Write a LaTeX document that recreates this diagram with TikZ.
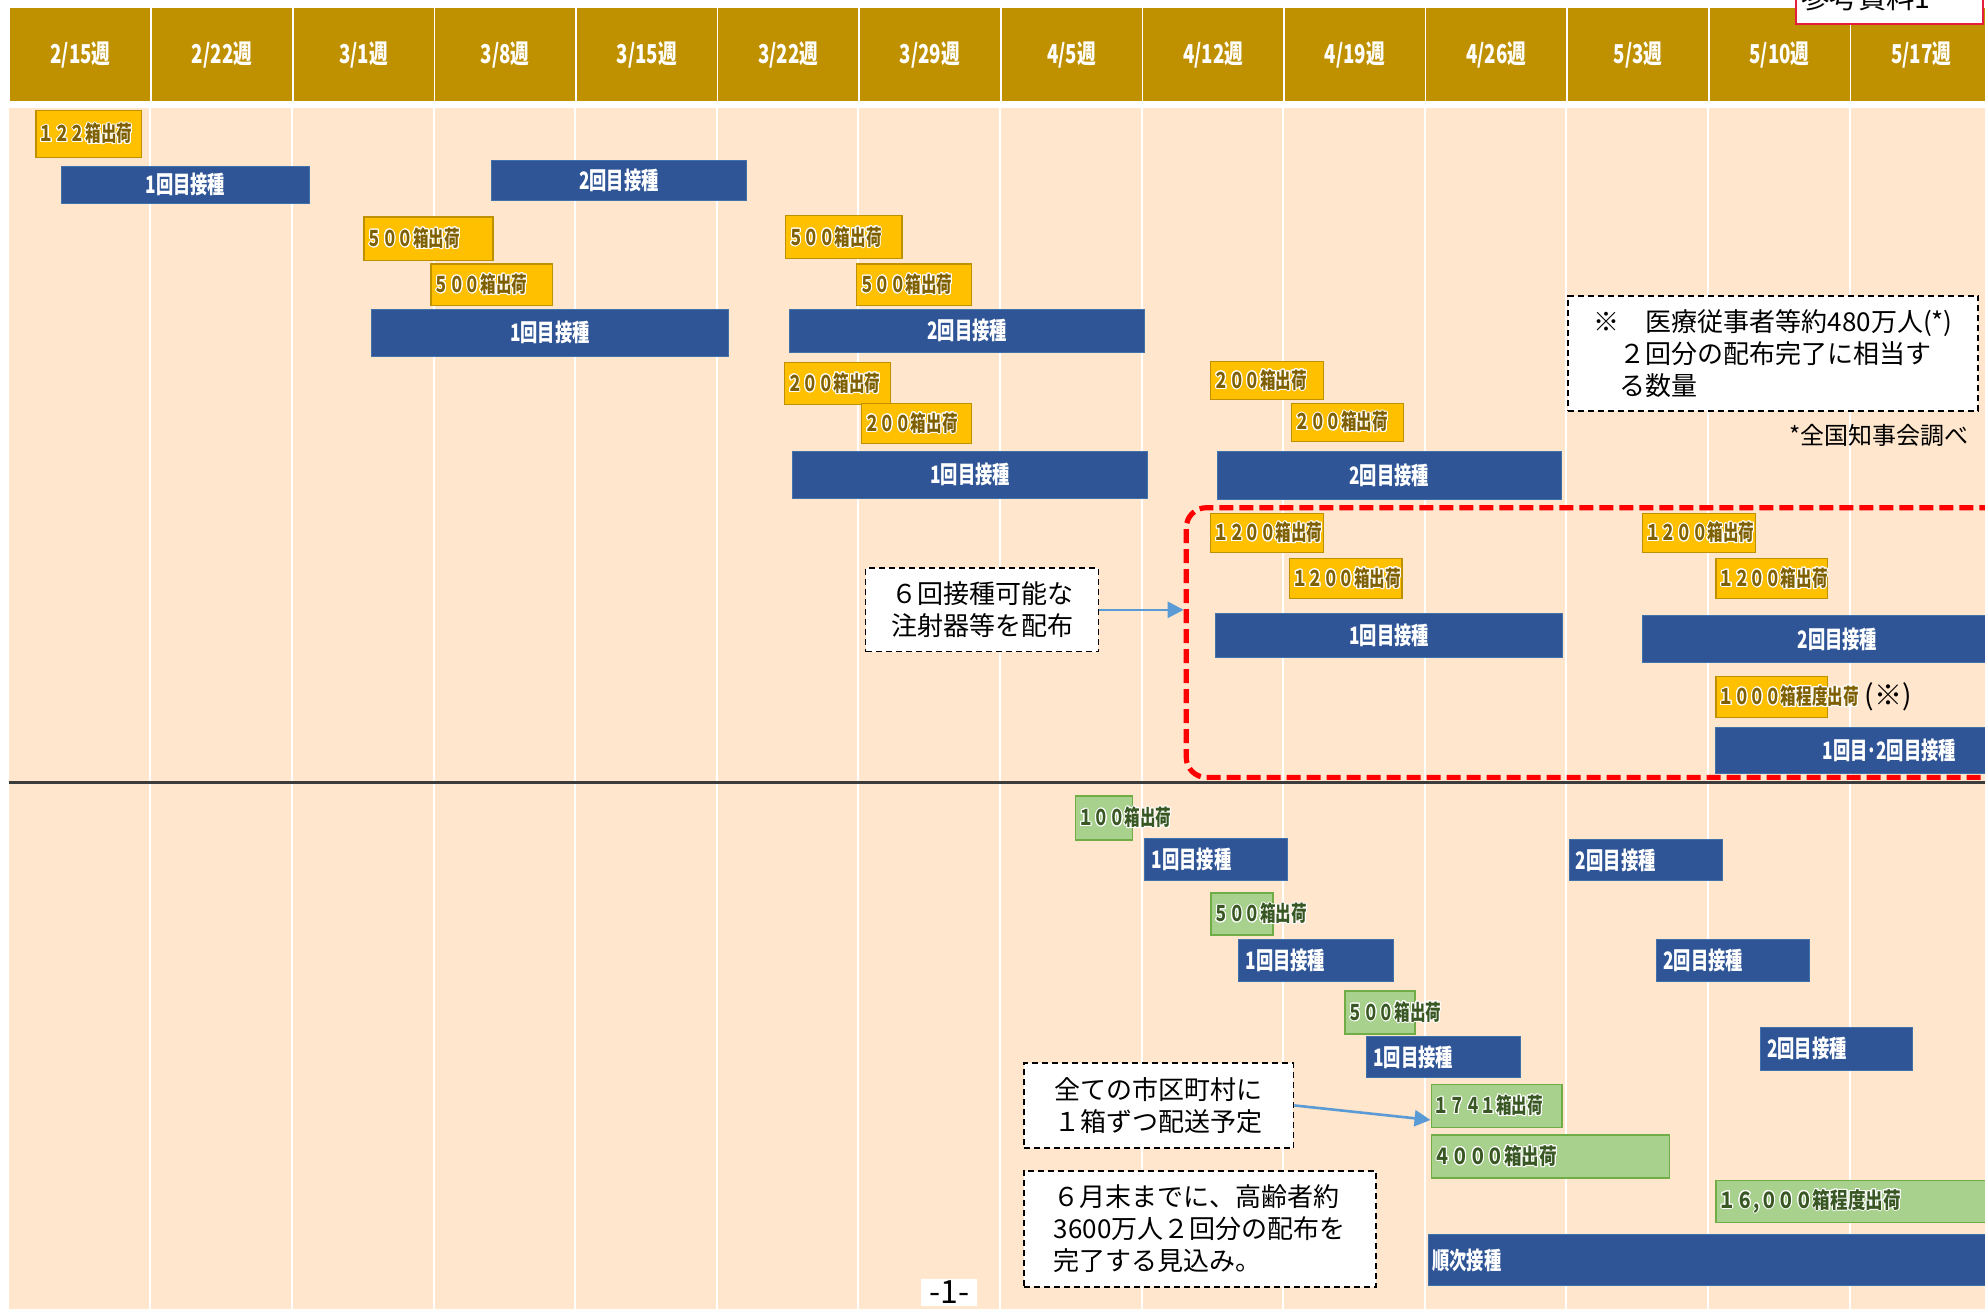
\documentclass[tikz,border=0pt]{standalone}
\usepackage{fontspec}
\setmainfont{Noto Sans CJK JP}
\newfontfamily\barfont{Noto Sans CJK JP}[FakeStretch=0.72]
\newfontfamily\widefont{Noto Sans CJK JP}[FakeStretch=0.8]
\usepackage{contour}
\contourlength{0.5pt}
\usetikzlibrary{shapes,arrows.meta,positioning}

\definecolor{headgold}{RGB}{191,144,0}
\definecolor{bodypeach}{RGB}{255,230,204}
\definecolor{barblue}{RGB}{47,85,151}
\definecolor{barblueline}{RGB}{65,113,170}
\definecolor{shipyellow}{RGB}{255,192,0}
\definecolor{shipyellowline}{RGB}{191,144,0}
\definecolor{shipbrown}{RGB}{127,96,0}
\definecolor{shipgreen}{RGB}{169,209,142}
\definecolor{shipgreenline}{RGB}{112,173,71}
\definecolor{shipgreentext}{RGB}{56,87,35}
\definecolor{arrowblue}{RGB}{91,155,213}
\definecolor{framered}{RGB}{255,0,0}
\definecolor{refred}{RGB}{230,30,60}
\definecolor{sepgray}{RGB}{60,60,60}

\begin{document}
\begin{tikzpicture}[x=0.633pt, y=-0.633pt,
  sz/.style 2 args={minimum width=#1*0.633pt, minimum height=#2*0.633pt}]
\tikzstyle{headcell} = [rectangle, draw=white, line width=0.8pt, fill=headgold, text=white,
    inner sep=0pt, anchor=north west, font=\barfont\bfseries\fontsize{13}{15}\selectfont]
\tikzstyle{bluebar} = [rectangle, draw=barblueline, line width=0.5pt, fill=barblue, text=white,
    inner sep=0pt, anchor=north west, font=\barfont\bfseries\fontsize{12}{14}\selectfont]
\tikzstyle{bluetext} = [anchor=west, inner xsep=3.5pt, text=white, font=\barfont\bfseries\fontsize{12}{14}\selectfont]
\tikzstyle{shipbox} = [rectangle, draw=shipyellowline, line width=0.6pt, fill=shipyellow, inner sep=0pt, anchor=north west]
\tikzstyle{shiptext} = [anchor=west, inner xsep=1.5pt, text=shipbrown, font=\barfont\bfseries\fontsize{10.8}{12}\selectfont]
\tikzstyle{greenbox} = [rectangle, draw=shipgreenline, line width=0.8pt, fill=shipgreen, inner sep=0pt, anchor=north west]
\tikzstyle{greentext} = [shiptext, text=shipgreentext]
\tikzstyle{note} = [rectangle, draw, line width=0.9pt, dash pattern=on 3pt off 2pt, fill=white,
    inner sep=0pt, anchor=north west, font=\fontsize{13}{16}\selectfont]
\tikzstyle{redframe} = [rectangle, draw=framered, line width=2.6pt, dash pattern=on 7pt off 3pt,
    rounded corners=10pt, inner sep=0pt, anchor=north west]
\tikzstyle{line} = [draw=arrowblue, line width=1.3pt, -{Triangle[length=8pt,width=8pt]}]

\clip (0,0) rectangle (1568,1034);
\fill[white] (0,0) rectangle (1568,1034);

% week header and columns
\fill[bodypeach] (7,85) rectangle (1568,1034);
\foreach \i in {1,...,13}
  \draw[white, line width=1pt] ({7+111.85*\i},85) -- ({7+111.85*\i},1034);
\foreach \w [count=\i from 0] in {2/15,2/22,3/1,3/8,3/15,3/22,3/29,4/5,4/12,4/19,4/26,5/3,5/10,5/17}
  \node[headcell, sz={111.85}{75}] (h\i) at ({7+111.85*\i},5) {\w 週};

\node[rectangle, draw=refred, line width=1pt, fill=white, sz={148}{60}, anchor=south west] (refbox) at (1418,20) {};
\node[font=\fontsize{14.2}{16}\selectfont] (reftext) at (1474,-2) {参考資料1};

% medical staff
\node[shipbox, sz={83}{37}] (y1) at (28,87) {};
\node[shiptext] (y1t) at (y1.west) {\contour{white}{１２２箱出荷}};
\node[bluebar, sz={196}{29}] (b1) at (48,131) {1回目接種};
\node[bluebar, sz={201}{32}] (b2) at (388,126) {2回目接種};

\node[shipbox, sz={102}{34}] (y2) at (287,171) {};
\node[shiptext] (y2t) at (y2.west) {\contour{white}{５００箱出荷}};
\node[shipbox, sz={96}{33}] (y3) at (340,208) {};
\node[shiptext] (y3t) at (y3.west) {\contour{white}{５００箱出荷}};
\node[bluebar, sz={282}{37}] (b3) at (293,244) {1回目接種};

\node[shipbox, sz={92}{34}] (y4) at (620,170) {};
\node[shiptext] (y4t) at (y4.west) {\contour{white}{５００箱出荷}};
\node[shipbox, sz={91}{33}] (y5) at (676,208) {};
\node[shiptext] (y5t) at (y5.west) {\contour{white}{５００箱出荷}};
\node[bluebar, sz={281}{34}] (b4) at (623,244) {2回目接種};

\node[shipbox, sz={84}{33}] (y6) at (619,286) {};
\node[shiptext] (y6t) at (y6.west) {\contour{white}{２００箱出荷}};
\node[shipbox, sz={87}{32}] (y7) at (680,318) {};
\node[shiptext] (y7t) at (y7.west) {\contour{white}{２００箱出荷}};
\node[bluebar, sz={280}{37}] (b5) at (626,356) {1回目接種};

\node[shipbox, sz={89}{30}] (y8) at (956,285) {};
\node[shiptext] (y8t) at (y8.west) {\contour{white}{２００箱出荷}};
\node[shipbox, sz={88}{30}] (y9) at (1020,318) {};
\node[shiptext] (y9t) at (y9.west) {\contour{white}{２００箱出荷}};
\node[bluebar, sz={272}{38}] (b6) at (961,356) {2回目接種};

\node[note, sz={324}{91}, align=left] (note480) at (1238,233)
  {※　医療従事者等約480万人(*)\\\hspace*{1em}２回分の配布完了に相当す\\\hspace*{1em}る数量};
\node[font=\fontsize{12}{14}\selectfont] (source) at (1484,344) {*全国知事会調べ};

% six-dose syringes
\node[redframe, sz={685}{213}] (sixdose) at (935,399) {};
\node[shipbox, sz={89}{31}] (y10) at (956,405) {};
\node[shiptext] (y10t) at (y10.west) {\contour{white}{１２００箱出荷}};
\node[shipbox, sz={89}{31}] (y11) at (1018,441) {};
\node[shiptext] (y11t) at (y11.west) {\contour{white}{１２００箱出荷}};
\node[bluebar, sz={274}{35}] (b7) at (960,484) {1回目接種};
\node[shipbox, sz={89}{31}] (y12) at (1297,405) {};
\node[shiptext] (y12t) at (y12.west) {\contour{white}{１２００箱出荷}};
\node[shipbox, sz={88}{31}] (y13) at (1355,441) {};
\node[shiptext] (y13t) at (y13.west) {\contour{white}{１２００箱出荷}};
\node[bluebar, sz={308}{37}] (b8) at (1297,486) {2回目接種};
\node[shipbox, sz={88}{32}] (y14) at (1355,534) {};
\node[shiptext] (y14t) at (y14.west) {\contour{white}{１０００箱程度出荷}};
\node[anchor=west, inner xsep=1pt, font=\fontsize{14}{16}\selectfont] (y14n) at (y14t.east) {(※)};
\node[bluebar, sz={274}{37}] (b9) at (1355,574) {1回目･2回目接種};

\node[note, sz={184}{66}, align=center] (note6) at (683,448) {６回接種可能な\\注射器等を配布};
\path[line] (note6.east) -- (note6.east -| sixdose.west);

\draw[sepgray, line width=1.2pt] (7,618) -- (1568,618);

% elderly
\node[greenbox, sz={45}{35}] (g1) at (849,628) {};
\node[greentext] (g1t) at (g1.west) {\contour{white}{１００箱出荷}};
\node[bluebar, sz={113}{33}] (b10) at (904,662) {};
\node[bluetext] (b10t) at (b10.west) {1回目接種};
\node[bluebar, sz={121}{32}] (b11) at (1239,663) {};
\node[bluetext] (b11t) at (b11.west) {2回目接種};

\node[greenbox, sz={49}{33}] (g2) at (956,705) {};
\node[greentext] (g2t) at (g2.west) {\contour{white}{５００箱出荷}};
\node[bluebar, sz={122}{33}] (b12) at (978,742) {};
\node[bluetext] (b12t) at (b12.west) {1回目接種};
\node[bluebar, sz={121}{33}] (b13) at (1308,742) {};
\node[bluetext] (b13t) at (b13.west) {2回目接種};

\node[greenbox, sz={55}{34}] (g3) at (1062,782) {};
\node[greentext] (g3t) at (g3.west) {\contour{white}{５００箱出荷}};
\node[bluebar, sz={122}{33}] (b14) at (1079,818) {};
\node[bluetext] (b14t) at (b14.west) {1回目接種};
\node[bluebar, sz={120}{34}] (b15) at (1390,811) {};
\node[bluetext] (b15t) at (b15.west) {2回目接種};

\node[greenbox, sz={103}{34}] (g4) at (1130,856) {};
\node[greentext] (g4t) at (g4.west) {\contour{white}{１７４１箱出荷}};
\node[greenbox, sz={188}{34}] (g5) at (1130,896) {};
\node[greentext, font=\widefont\bfseries\fontsize{11}{13}\selectfont] (g5t) at (g5.west) {\contour{white}{４０００箱出荷}};
\node[greenbox, sz={240}{33}] (g6) at (1355,932) {};
\node[greentext, font=\widefont\bfseries\fontsize{11}{13}\selectfont] (g6t) at (g6.west) {\contour{white}{１６,０００箱程度出荷}};
\node[bluebar, sz={460}{40}] (b16) at (1128,975) {};
\node[bluetext, inner xsep=2pt] (b16t) at (b16.west) {順次接種};

\node[note, sz={213}{67}, align=left] (notecity) at (808,839) {全ての市区町村に\\１箱ずつ配送予定};
\path[line] (notecity.east) -- ([yshift=-7pt]g4.west);
\node[note, sz={278}{92}, align=left] (notejune) at (808,924)
  {６月末までに、高齢者約\\3600万人２回分の配布を\\完了する見込み。};

\node[fill=white, inner sep=1pt, minimum width=28pt, anchor=north, font=\fontsize{16}{17}\selectfont] (pagenum) at (750,1010) {-1-};

\end{tikzpicture}
\end{document}
